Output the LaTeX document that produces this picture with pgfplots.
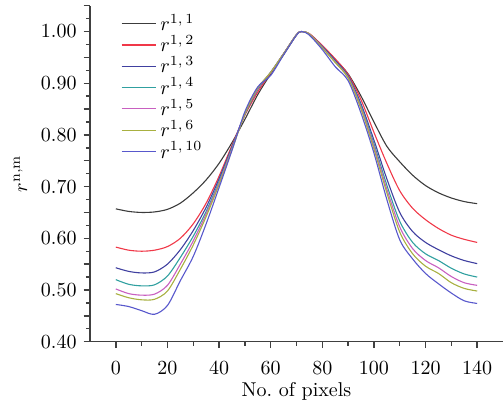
\documentclass[border=0pt]{standalone}
\usepackage{pgfplots}
\pgfplotsset{compat=1.18}
\usepackage{pgfplotstable}

\definecolor{cA}{HTML}{3C3C3C}
\definecolor{cB}{HTML}{F03848}
\definecolor{cC}{HTML}{4040A0}
\definecolor{cD}{HTML}{30A0A0}
\definecolor{cE}{HTML}{C860C0}
\definecolor{cF}{HTML}{A8B040}
\definecolor{cG}{HTML}{5858CC}

\pgfplotstableread{
x   a     b     c     d     e     f     g
0   0.657 0.583 0.543 0.520 0.502 0.493 0.472
5   0.652 0.577 0.536 0.511 0.493 0.485 0.468
10  0.650 0.575 0.533 0.508 0.490 0.481 0.460
15  0.651 0.577 0.535 0.510 0.492 0.482 0.453
20  0.656 0.584 0.550 0.527 0.509 0.498 0.470
25  0.668 0.600 0.578 0.563 0.550 0.540 0.518
30  0.688 0.628 0.615 0.604 0.595 0.587 0.565
35  0.713 0.668 0.660 0.652 0.647 0.642 0.628
40  0.745 0.720 0.715 0.710 0.707 0.704 0.698
45  0.785 0.780 0.777 0.775 0.773 0.771 0.770
50  0.830 0.838 0.840 0.840 0.841 0.841 0.845
55  0.878 0.883 0.888 0.889 0.890 0.891 0.893
60  0.918 0.920 0.921 0.921 0.921 0.921 0.915
65  0.955 0.957 0.957 0.957 0.957 0.957 0.955
70  0.993 0.994 0.994 0.994 0.994 0.994 0.993
72  1.000 1.000 1.000 1.000 1.000 1.000 1.000
75  0.995 0.996 0.995 0.995 0.995 0.995 0.993
80  0.972 0.973 0.971 0.970 0.969 0.968 0.965
85  0.946 0.947 0.944 0.942 0.941 0.940 0.932
90  0.918 0.917 0.914 0.912 0.911 0.910 0.905
95  0.875 0.868 0.860 0.856 0.853 0.850 0.842
100 0.825 0.805 0.790 0.783 0.778 0.773 0.765
105 0.778 0.745 0.715 0.703 0.695 0.688 0.675
110 0.748 0.692 0.650 0.633 0.622 0.612 0.597
115 0.722 0.658 0.613 0.592 0.580 0.570 0.560
120 0.702 0.636 0.592 0.570 0.557 0.546 0.532
125 0.688 0.619 0.578 0.557 0.543 0.532 0.512
130 0.678 0.606 0.566 0.542 0.526 0.514 0.494
135 0.671 0.598 0.557 0.531 0.514 0.503 0.479
140 0.667 0.592 0.551 0.525 0.509 0.498 0.474
}\curves

\begin{document}
\begin{tikzpicture}
\begin{axis}[
    scale only axis,
    width=206.5pt, height=168pt,
    xmin=-10, xmax=150,
    ymin=0.4, ymax=1.05,
    axis x line*=bottom, axis y line*=left,
    axis line style={color=black!75, line width=0.8pt},
    tick align=outside,
    tick style={color=black!75, line width=0.7pt},
    major tick length=3.2pt, minor tick length=2pt,
    xtick={0,20,40,60,80,100,120,140},
    minor x tick num=1,
    xticklabel style={yshift=-3pt},
    ytick={0.40,0.45,0.50,0.55,0.60,0.65,0.70,0.75,0.80,0.85,0.90,0.95,1.00,1.05},
    yticklabels={0.40,,0.50,,0.60,,0.70,,0.80,,0.90,,1.00,},
    minor y tick num=1,
    xlabel={No.\ of pixels},
    ylabel={$r^{\mathrm{n,m}}$},
    xlabel style={yshift=2.5pt},
    legend style={at={(0.06,1.0)}, anchor=north west, draw=none, fill=none,
                  row sep=-3pt, font=\normalsize},
    legend cell align=left,
    every axis plot/.append style={line width=0.55pt, smooth, tension=0.5},
]
\addplot[cA] table[x=x, y=a] {\curves};
\addplot[cB] table[x=x, y=b] {\curves};
\addplot[cC] table[x=x, y=c] {\curves};
\addplot[cD] table[x=x, y=d] {\curves};
\addplot[cE] table[x=x, y=e] {\curves};
\addplot[cF] table[x=x, y=f] {\curves};
\addplot[cG] table[x=x, y=g] {\curves};
\legend{$r^{1,\,1}$,$r^{1,\,2}$,$r^{1,\,3}$,$r^{1,\,4}$,$r^{1,\,5}$,$r^{1,\,6}$,$r^{1,\,10}$}
\end{axis}
\pgfresetboundingbox
\path[use as bounding box] ([xshift=-45pt,yshift=-30pt]current axis.south west) rectangle ([yshift=2.85pt]current axis.north east);
\end{tikzpicture}
\end{document}
